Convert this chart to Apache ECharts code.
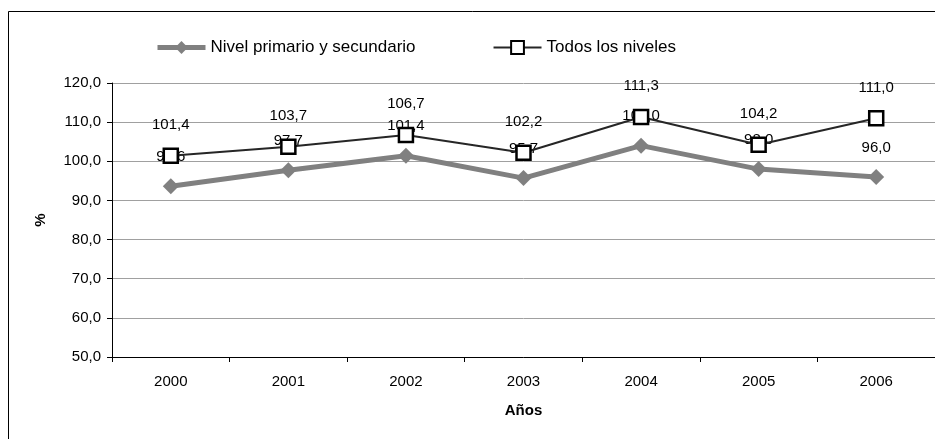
<!DOCTYPE html>
<html>
<head>
<meta charset="utf-8">
<script src="https://cdn.jsdelivr.net/npm/echarts@6/dist/echarts.min.js"></script>
<style>
  html, body { margin: 0; padding: 0; background: #fff; }
  #main { width: 935px; height: 439px; }
</style>
</head>
<body>
<div id="main"></div>
<script>
var years = ["2000", "2001", "2002", "2003", "2004", "2005", "2006"];
var primSec = [93.6, 97.7, 101.4, 95.7, 104.0, 98.0, 96.0];
var todos = [101.4, 103.7, 106.7, 102.2, 111.3, 104.2, 111.0];
var yTicks = [50, 60, 70, 80, 90, 100, 110, 120];

function coma(v) {
  return v.toFixed(1).replace(".", ",");
}

var font = "Liberation Sans, Arial, sans-serif";

var option = {
  animation: false,
  backgroundColor: "#fff",
  textStyle: { fontFamily: font },
  graphic: [
    {
      type: "rect",
      shape: { x: 8.5, y: 11.5, width: 1000, height: 1000 },
      style: { fill: "none", stroke: "#000", lineWidth: 1 },
      silent: true
    }
  ],
  legend: {
    left: 150,
    top: 34,
    itemGap: 77,
    itemWidth: 48,
    itemHeight: 16,
    textStyle: { fontSize: 17, color: "#000", fontFamily: font },
    data: [
      { name: "Nivel primario y secundario", lineStyle: { width: 5 } },
      { name: "Todos los niveles", lineStyle: { width: 2 } }
    ]
  },
  grid: { left: 112, right: 0, top: 83, bottom: 82 },
  xAxis: {
    type: "category",
    data: years,
    boundaryGap: true,
    name: "Años",
    nameLocation: "middle",
    nameGap: 46,
    nameTextStyle: { fontWeight: "bold", fontSize: 15, color: "#000" },
    axisLine: { lineStyle: { color: "#000" } },
    axisTick: { show: true, length: 5, alignWithLabel: false },
    axisLabel: { fontSize: 15, color: "#000", margin: 17 }
  },
  yAxis: {
    type: "value",
    min: yTicks[0],
    max: yTicks[yTicks.length - 1],
    interval: 10,
    name: "%",
    nameLocation: "middle",
    nameGap: 64,
    nameTextStyle: { fontWeight: "bold", fontSize: 15, color: "#000" },
    axisLine: { show: true, lineStyle: { color: "#000" } },
    axisTick: { show: true, length: 5 },
    axisLabel: { fontSize: 15, color: "#000", margin: 11, formatter: function (v) { return coma(v); } },
    splitLine: { lineStyle: { color: "#a0a0a0", width: 1 } }
  },
  series: [
    {
      name: "Nivel primario y secundario",
      type: "line",
      data: primSec,
      symbol: "diamond",
      symbolSize: 16,
      lineStyle: { color: "#808080", width: 5 },
      itemStyle: { color: "#808080" },
      label: {
        show: true,
        position: "top",
        distance: 14,
        fontSize: 15,
        color: "#000",
        formatter: function (p) { return coma(p.value); }
      },
      z: 2
    },
    {
      name: "Todos los niveles",
      type: "line",
      data: todos,
      symbol: "rect",
      symbolSize: 14,
      lineStyle: { color: "#262626", width: 2 },
      itemStyle: { color: "#fff", borderColor: "#000", borderWidth: 2.5 },
      label: {
        show: true,
        position: "top",
        distance: 15,
        fontSize: 15,
        color: "#000",
        formatter: function (p) { return coma(p.value); }
      },
      z: 3
    }
  ]
};

var chartDom = document.getElementById("main");
var myChart = echarts.init(chartDom);
option && myChart.setOption(option);
</script>
</body>
</html>
